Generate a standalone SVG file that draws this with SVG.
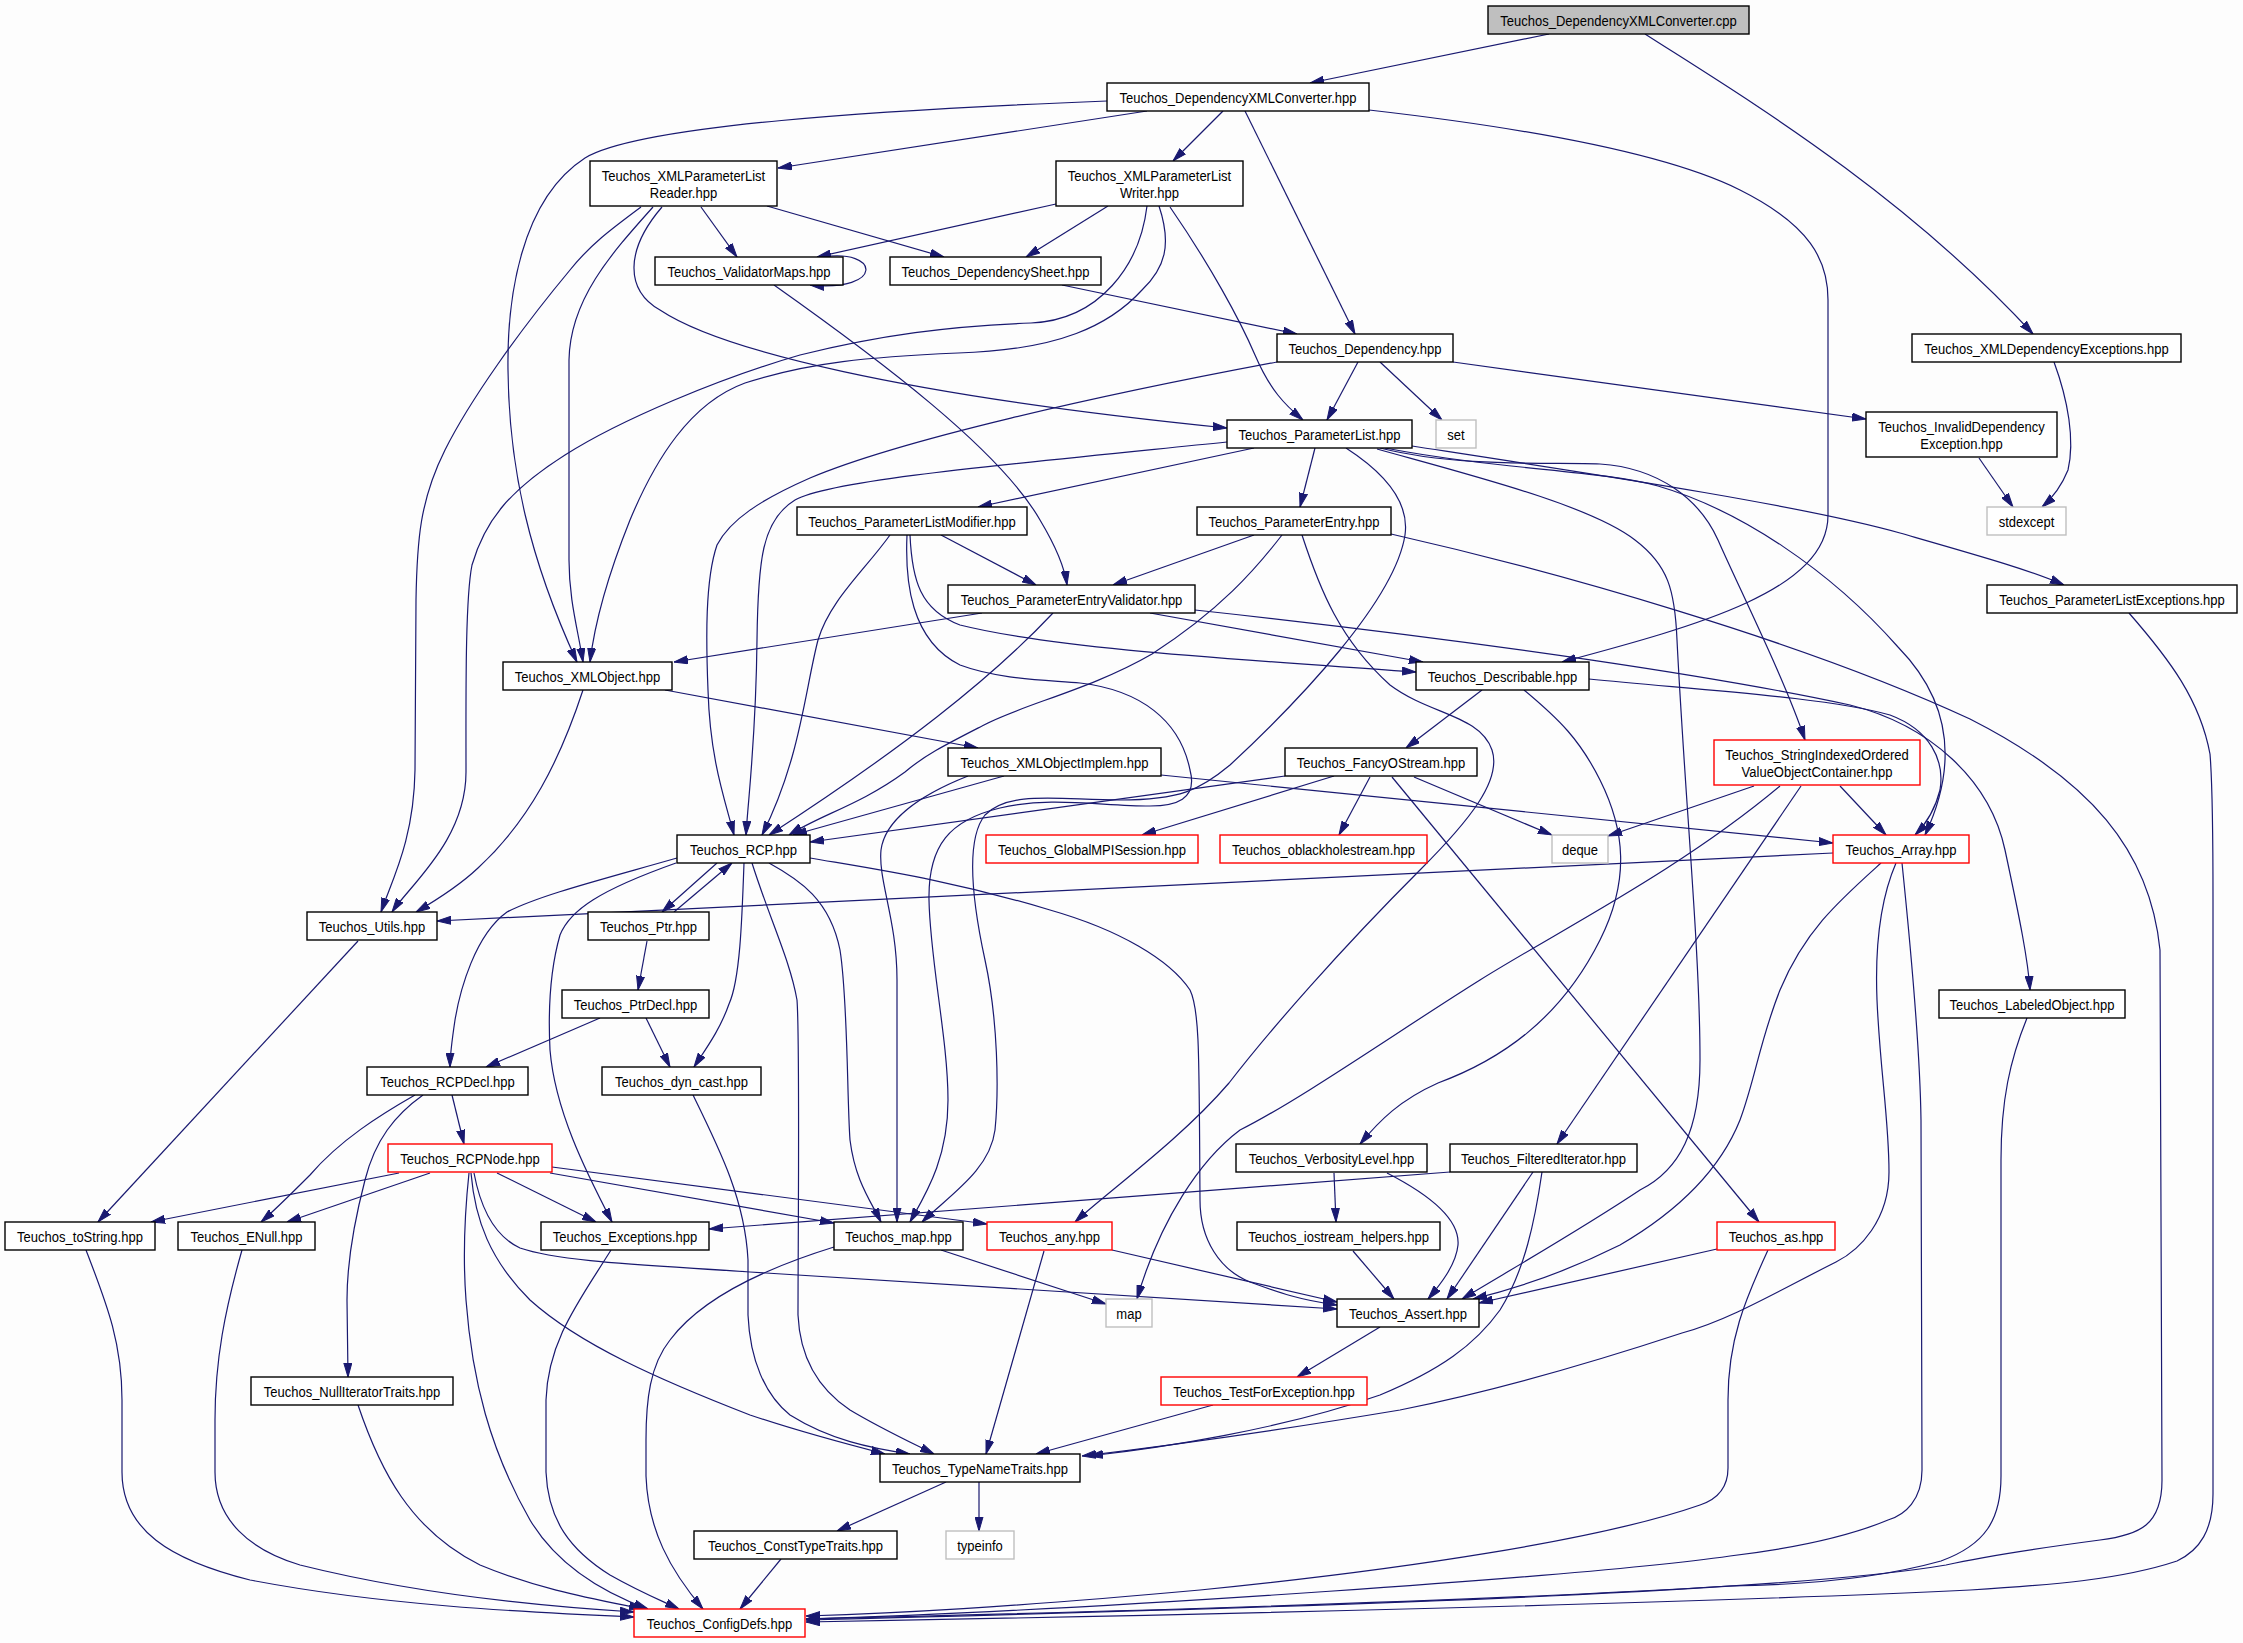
<svg xmlns="http://www.w3.org/2000/svg" width="2243" height="1643" viewBox="0 0 2243 1643">
<defs>
<style>
.n rect{fill:#ffffff;stroke:#000000;stroke-width:1.4}
.n.r rect{stroke:#ff0000}
.n.g rect{stroke:#bfbfbf}
.n.root rect{fill:#bfbfbf}
text{font-family:"Liberation Sans",Arial,Helvetica,sans-serif;font-size:15.5px;text-anchor:middle;fill:#000000}
#edges path{fill:none;stroke:#191970;stroke-width:1.2;marker-end:url(#ah)}
</style>
<marker id="ah" markerWidth="14" markerHeight="9" refX="14" refY="4.5" orient="auto" markerUnits="userSpaceOnUse">
<path d="M0,0.5 L14,4.5 L0,8.5 z" fill="#191970" stroke="#191970" stroke-width="1"/>
</marker>
</defs>
<rect x="0" y="0" width="2243" height="1643" fill="#fdfdfd"/>
<g id="edges">
<path d="M1549,34 L1310,83"/>
<path d="M1645,34 C1740,95 1900,190 2033,334"/>
<path d="M1147,111 L778,168"/>
<path d="M1223,111 L1173,161"/>
<path d="M1245,111 L1355,334"/>
<path d="M1369,110 C1500,125 1660,150 1740,190 C1810,225 1828,260 1828,300 L1828,515 C1828,590 1700,625 1562,662"/>
<path d="M1107,101 C880,110 640,125 585,158 C520,200 507,300 508,370 C509,470 530,560 577,662"/>
<path d="M701,207 L737,257"/>
<path d="M767,206 L944,257"/>
<path d="M662,207 C625,250 625,290 660,310 C720,350 900,395 1227,428"/>
<path d="M641,207 C610,230 590,245 570,270 C520,330 470,400 445,450 C420,500 417,540 416,600 L415,770 C414,840 392,880 381,912"/>
<path d="M653,207 C610,255 570,300 569,360 L569,560 C569,600 578,630 583,662"/>
<path d="M1056,204 L817,257"/>
<path d="M1108,206 L1026,257"/>
<path d="M1170,207 C1210,265 1240,320 1255,355 C1270,390 1285,405 1303,420"/>
<path d="M1147,206 C1140,265 1100,320 1031,323 C950,326 880,335 800,355 C720,378 620,420 565,455 C510,490 485,520 472,565 C465,600 466,700 466,772 C466,840 410,885 392,912"/>
<path d="M1159,206 C1172,245 1165,268 1142,290 C1110,325 1060,350 958,353 C870,357 810,362 745,383 C690,403 655,460 630,520 C610,570 595,620 590,662"/>
<path d="M822,257 C880,248 885,292 810,285"/>
<path d="M774,285 C880,360 1000,450 1040,520 C1058,550 1065,570 1067,585"/>
<path d="M1062,285 L1297,334"/>
<path d="M1358,362 L1327,420"/>
<path d="M1380,362 L1442,420"/>
<path d="M1453,362 L1866,419"/>
<path d="M1277,362 C1100,395 900,440 810,478 C760,500 730,520 717,545 C705,580 706,640 708,690 C710,760 725,800 734,835"/>
<path d="M1254,448 L978,507"/>
<path d="M1315,448 L1300,507"/>
<path d="M1227,442 C1000,465 830,480 795,500 C762,520 758,560 757,640 C756,740 748,800 746,835"/>
<path d="M1346,448 C1380,470 1410,500 1405,535 C1395,600 1300,700 1230,765 C1200,790 1180,800 1120,800 C1060,800 1010,790 985,815 C965,840 972,900 985,960 C998,1020 999,1090 995,1130 C990,1170 950,1195 922,1222"/>
<path d="M1377,449 C1470,475 1590,505 1635,540 C1668,565 1675,590 1677,640 C1685,800 1700,950 1700,1060 C1700,1130 1680,1170 1640,1190 C1580,1230 1510,1270 1462,1299"/>
<path d="M1380,448 C1460,468 1550,462 1600,464 C1660,468 1700,500 1718,540 C1740,590 1785,680 1805,740"/>
<path d="M1385,448 C1500,470 1600,470 1658,486 C1740,510 1830,570 1898,647 C1940,690 1965,750 1925,835"/>
<path d="M1412,446 C1600,475 1800,505 1900,533 C1980,556 2030,570 2064,585"/>
<path d="M941,535 L1036,585"/>
<path d="M910,535 C912,580 920,610 960,625 C1060,650 1250,660 1416,672"/>
<path d="M890,535 C865,570 830,600 818,640 C805,690 800,760 762,835"/>
<path d="M907,535 C905,580 910,640 960,665 C1000,680 1050,680 1080,683 C1140,690 1180,720 1190,770 C1198,800 1175,806 1150,806 C1100,806 1050,796 1000,808 C950,820 928,845 929,900 C930,960 948,1040 948,1100 C948,1160 925,1195 910,1222"/>
<path d="M1254,535 L1113,585"/>
<path d="M1282,535 C1255,570 1220,610 1152,654 C1090,690 1020,705 982,726 C945,745 925,755 905,772 C860,805 820,815 789,835"/>
<path d="M1302,535 C1320,590 1340,640 1390,685 C1430,715 1480,715 1492,750 C1502,780 1470,820 1420,870 C1340,950 1270,1030 1229,1083 C1180,1140 1110,1190 1075,1222"/>
<path d="M1391,534 C1550,570 1800,640 1970,719 C2090,780 2150,850 2160,950 L2162,1480 C2162,1525 2140,1535 2100,1540 C2040,1548 1990,1555 1946,1565 C1800,1590 1400,1605 806,1620"/>
<path d="M982,613 L674,662"/>
<path d="M1053,613 C990,680 900,750 769,835"/>
<path d="M1150,613 L1423,662"/>
<path d="M1195,610 C1500,643 1730,679 1850,705 C1930,725 1990,780 2005,850 C2020,920 2028,960 2030,990"/>
<path d="M1482,690 L1406,748"/>
<path d="M1589,679 C1700,690 1826,697 1890,715 C1930,730 1945,760 1940,790 C1935,810 1925,825 1915,835"/>
<path d="M1524,690 C1560,720 1580,740 1600,780 C1625,830 1630,880 1600,940 C1560,1020 1500,1060 1438,1083 C1400,1100 1380,1120 1360,1144"/>
<path d="M583,690 C560,760 530,820 478,868 C460,885 440,898 416,912"/>
<path d="M665,690 L978,748"/>
<path d="M1004,776 L793,835"/>
<path d="M968,776 C920,795 885,820 881,850 C878,880 897,920 897,980 L897,1222"/>
<path d="M1161,775 L1833,843"/>
<path d="M1285,776 L810,842"/>
<path d="M1334,776 L1142,835"/>
<path d="M1370,777 L1339,835"/>
<path d="M1414,777 L1552,835"/>
<path d="M1392,777 L1759,1222"/>
<path d="M1754,786 L1608,836"/>
<path d="M1780,786 C1680,870 1560,930 1480,980 C1400,1030 1300,1100 1240,1130 C1200,1160 1160,1220 1137,1299"/>
<path d="M1801,786 L1557,1144"/>
<path d="M1840,786 L1886,835"/>
<path d="M1833,853 L437,921"/>
<path d="M1881,863 C1840,900 1805,930 1780,990 C1760,1040 1755,1080 1740,1120 C1720,1170 1680,1210 1620,1245 C1560,1275 1510,1290 1473,1299"/>
<path d="M1896,863 C1880,900 1875,950 1877,1000 C1880,1070 1889,1120 1889,1172 C1889,1220 1860,1250 1836,1262 C1780,1290 1730,1320 1682,1333 C1600,1360 1500,1390 1400,1410 C1250,1435 1150,1448 1082,1456"/>
<path d="M1902,863 C1912,960 1920,1050 1921,1120 L1922,1470 C1922,1500 1905,1515 1888,1520 C1840,1540 1780,1550 1730,1556 C1600,1575 1100,1610 806,1619"/>
<path d="M358,941 L98,1222"/>
<path d="M717,863 L662,912"/>
<path d="M674,912 L732,863"/>
<path d="M677,858 C600,880 540,895 507,912 C475,935 460,990 455,1020 C452,1040 450,1055 450,1067"/>
<path d="M676,863 C600,890 570,910 560,935 C550,970 548,1010 550,1050 C555,1110 585,1170 612,1222"/>
<path d="M744,863 C742,920 740,980 729,1004 C720,1030 705,1050 694,1067"/>
<path d="M769,863 C800,880 830,900 840,950 C848,1000 847,1100 850,1140 C855,1180 870,1200 881,1222"/>
<path d="M752,863 C770,920 790,960 797,1000 C800,1040 798,1250 798,1315 C800,1360 820,1390 850,1410 C880,1428 910,1442 934,1454"/>
<path d="M810,858 C880,870 950,880 1050,910 C1120,930 1170,960 1190,990 C1200,1010 1199,1060 1200,1200 C1200,1240 1220,1270 1250,1282 C1280,1293 1300,1300 1337,1305"/>
<path d="M647,941 L638,990"/>
<path d="M600,1018 L486,1067"/>
<path d="M646,1018 L670,1067"/>
<path d="M452,1095 L464,1144"/>
<path d="M415,1095 C380,1115 340,1140 310,1175 C290,1195 275,1210 261,1222"/>
<path d="M423,1095 C395,1115 375,1140 365,1180 C352,1230 347,1270 347,1300 L348,1377"/>
<path d="M693,1095 C720,1150 745,1200 748,1260 L748,1315 C750,1360 765,1395 790,1415 C830,1440 870,1448 910,1454"/>
<path d="M399,1173 L151,1222"/>
<path d="M430,1173 L287,1222"/>
<path d="M497,1173 L596,1222"/>
<path d="M550,1173 L834,1223"/>
<path d="M552,1167 L987,1224"/>
<path d="M474,1173 C480,1205 492,1235 520,1248 C560,1262 650,1265 750,1272 L1337,1309"/>
<path d="M471,1173 C475,1220 490,1260 530,1300 C580,1345 660,1380 750,1415 C800,1432 850,1445 885,1454"/>
<path d="M469,1173 C464,1220 463,1260 466,1300 C472,1380 490,1450 530,1520 C560,1570 610,1595 648,1609"/>
<path d="M86,1250 C105,1300 122,1340 122,1400 L122,1472 C122,1530 170,1560 250,1580 C380,1605 520,1612 634,1617"/>
<path d="M242,1250 C225,1310 215,1360 215,1420 L215,1472 C215,1520 250,1550 300,1565 C400,1590 520,1605 634,1612"/>
<path d="M358,1405 C380,1470 410,1530 480,1565 C540,1590 600,1600 643,1609"/>
<path d="M611,1250 C580,1300 548,1340 546,1400 L546,1472 C548,1520 570,1550 610,1575 C640,1592 660,1600 679,1609"/>
<path d="M941,1250 L1106,1304"/>
<path d="M834,1247 C760,1270 700,1300 670,1340 C650,1365 646,1400 646,1440 L646,1476 C648,1530 670,1570 703,1609"/>
<path d="M1112,1250 L1337,1302"/>
<path d="M1044,1251 L986,1454"/>
<path d="M1334,1173 L1336,1222"/>
<path d="M1387,1173 C1430,1195 1460,1220 1458,1245 C1456,1265 1440,1285 1428,1299"/>
<path d="M1353,1251 L1394,1299"/>
<path d="M1450,1172 L709,1229"/>
<path d="M1533,1172 L1447,1299"/>
<path d="M1542,1172 C1535,1220 1525,1270 1500,1310 C1475,1345 1440,1370 1380,1395 C1280,1430 1160,1448 1089,1456"/>
<path d="M1717,1249 L1479,1303"/>
<path d="M1768,1250 C1745,1300 1728,1340 1728,1400 L1728,1468 C1728,1490 1715,1500 1700,1505 C1600,1540 1400,1570 1200,1590 C1000,1608 900,1613 806,1616"/>
<path d="M1380,1327 L1297,1377"/>
<path d="M1213,1405 L1036,1454"/>
<path d="M946,1482 L837,1531"/>
<path d="M979,1482 L979,1531"/>
<path d="M781,1559 L740,1609"/>
<path d="M2027,1018 C2010,1060 2001,1100 2001,1160 L2001,1476 C2001,1520 1985,1545 1941,1561 C1880,1578 1800,1585 1730,1586 C1500,1600 1100,1612 806,1619"/>
<path d="M2129,613 C2170,660 2200,700 2210,754 C2213,790 2213,850 2213,900 L2213,1494 C2213,1530 2200,1550 2177,1561 C2120,1580 2050,1585 1970,1590 C1700,1603 1200,1615 806,1622"/>
<path d="M2054,362 C2068,400 2075,440 2068,470 C2060,490 2050,500 2042,507"/>
<path d="M1979,458 L2013,507"/>
</g>
<g id="n_cpp" class="n root"><rect x="1488" y="6" width="261" height="28"/><text transform="translate(1618.5,25.5) scale(0.84,1)">Teuchos_DependencyXMLConverter.cpp</text></g>
<g id="n_conv" class="n"><rect x="1107" y="83" width="262" height="28"/><text transform="translate(1238,102.5) scale(0.84,1)">Teuchos_DependencyXMLConverter.hpp</text></g>
<g id="n_reader" class="n"><rect x="590" y="161" width="187" height="45"/><text transform="translate(683.5,180.5) scale(0.84,1)">Teuchos_XMLParameterList</text><text transform="translate(683.5,197.5) scale(0.84,1)">Reader.hpp</text></g>
<g id="n_writer" class="n"><rect x="1056" y="161" width="187" height="45"/><text transform="translate(1149.5,180.5) scale(0.84,1)">Teuchos_XMLParameterList</text><text transform="translate(1149.5,197.5) scale(0.84,1)">Writer.hpp</text></g>
<g id="n_valmaps" class="n"><rect x="655" y="257" width="188" height="28"/><text transform="translate(749,276.5) scale(0.84,1)">Teuchos_ValidatorMaps.hpp</text></g>
<g id="n_depsheet" class="n"><rect x="890" y="257" width="211" height="28"/><text transform="translate(995.5,276.5) scale(0.84,1)">Teuchos_DependencySheet.hpp</text></g>
<g id="n_dep" class="n"><rect x="1277" y="334" width="176" height="28"/><text transform="translate(1365,353.5) scale(0.84,1)">Teuchos_Dependency.hpp</text></g>
<g id="n_xmldepexc" class="n"><rect x="1912" y="334" width="269" height="28"/><text transform="translate(2046.5,353.5) scale(0.84,1)">Teuchos_XMLDependencyExceptions.hpp</text></g>
<g id="n_plist" class="n"><rect x="1227" y="420" width="185" height="28"/><text transform="translate(1319.5,439.5) scale(0.84,1)">Teuchos_ParameterList.hpp</text></g>
<g id="n_set" class="n g"><rect x="1436" y="420" width="40" height="28"/><text transform="translate(1456,439.5) scale(0.84,1)">set</text></g>
<g id="n_invdep" class="n"><rect x="1866" y="412" width="191" height="45"/><text transform="translate(1961.5,431.5) scale(0.84,1)">Teuchos_InvalidDependency</text><text transform="translate(1961.5,448.5) scale(0.84,1)">Exception.hpp</text></g>
<g id="n_stdexcept" class="n g"><rect x="1987" y="507" width="79" height="28"/><text transform="translate(2026.5,526.5) scale(0.84,1)">stdexcept</text></g>
<g id="n_plmod" class="n"><rect x="797" y="507" width="230" height="28"/><text transform="translate(912,526.5) scale(0.84,1)">Teuchos_ParameterListModifier.hpp</text></g>
<g id="n_pentry" class="n"><rect x="1197" y="507" width="194" height="28"/><text transform="translate(1294,526.5) scale(0.84,1)">Teuchos_ParameterEntry.hpp</text></g>
<g id="n_pev" class="n"><rect x="948" y="585" width="247" height="28"/><text transform="translate(1071.5,604.5) scale(0.84,1)">Teuchos_ParameterEntryValidator.hpp</text></g>
<g id="n_ple" class="n"><rect x="1987" y="585" width="250" height="28"/><text transform="translate(2112,604.5) scale(0.84,1)">Teuchos_ParameterListExceptions.hpp</text></g>
<g id="n_xmlobj" class="n"><rect x="503" y="662" width="169" height="28"/><text transform="translate(587.5,681.5) scale(0.84,1)">Teuchos_XMLObject.hpp</text></g>
<g id="n_describ" class="n"><rect x="1416" y="662" width="173" height="28"/><text transform="translate(1502.5,681.5) scale(0.84,1)">Teuchos_Describable.hpp</text></g>
<g id="n_xmlimpl" class="n"><rect x="948" y="748" width="213" height="28"/><text transform="translate(1054.5,767.5) scale(0.84,1)">Teuchos_XMLObjectImplem.hpp</text></g>
<g id="n_fancy" class="n"><rect x="1285" y="748" width="192" height="28"/><text transform="translate(1381,767.5) scale(0.84,1)">Teuchos_FancyOStream.hpp</text></g>
<g id="n_sioc" class="n r"><rect x="1714" y="740" width="206" height="45"/><text transform="translate(1817,759.5) scale(0.84,1)">Teuchos_StringIndexedOrdered</text><text transform="translate(1817,776.5) scale(0.84,1)">ValueObjectContainer.hpp</text></g>
<g id="n_rcp" class="n"><rect x="677" y="835" width="133" height="28"/><text transform="translate(743.5,854.5) scale(0.84,1)">Teuchos_RCP.hpp</text></g>
<g id="n_gmpi" class="n r"><rect x="986" y="835" width="212" height="28"/><text transform="translate(1092,854.5) scale(0.84,1)">Teuchos_GlobalMPISession.hpp</text></g>
<g id="n_obh" class="n r"><rect x="1220" y="835" width="207" height="28"/><text transform="translate(1323.5,854.5) scale(0.84,1)">Teuchos_oblackholestream.hpp</text></g>
<g id="n_deque" class="n g"><rect x="1552" y="835" width="56" height="28"/><text transform="translate(1580,854.5) scale(0.84,1)">deque</text></g>
<g id="n_array" class="n r"><rect x="1833" y="835" width="136" height="28"/><text transform="translate(1901,854.5) scale(0.84,1)">Teuchos_Array.hpp</text></g>
<g id="n_utils" class="n"><rect x="307" y="912" width="130" height="28"/><text transform="translate(372,931.5) scale(0.84,1)">Teuchos_Utils.hpp</text></g>
<g id="n_ptr" class="n"><rect x="588" y="912" width="121" height="28"/><text transform="translate(648.5,931.5) scale(0.84,1)">Teuchos_Ptr.hpp</text></g>
<g id="n_ptrdecl" class="n"><rect x="562" y="990" width="147" height="28"/><text transform="translate(635.5,1009.5) scale(0.84,1)">Teuchos_PtrDecl.hpp</text></g>
<g id="n_labeled" class="n"><rect x="1939" y="990" width="186" height="28"/><text transform="translate(2032,1009.5) scale(0.84,1)">Teuchos_LabeledObject.hpp</text></g>
<g id="n_rcpdecl" class="n"><rect x="367" y="1067" width="161" height="28"/><text transform="translate(447.5,1086.5) scale(0.84,1)">Teuchos_RCPDecl.hpp</text></g>
<g id="n_dyncast" class="n"><rect x="602" y="1067" width="159" height="28"/><text transform="translate(681.5,1086.5) scale(0.84,1)">Teuchos_dyn_cast.hpp</text></g>
<g id="n_rcpnode" class="n r"><rect x="388" y="1144" width="164" height="28"/><text transform="translate(470,1163.5) scale(0.84,1)">Teuchos_RCPNode.hpp</text></g>
<g id="n_verb" class="n"><rect x="1236" y="1144" width="191" height="28"/><text transform="translate(1331.5,1163.5) scale(0.84,1)">Teuchos_VerbosityLevel.hpp</text></g>
<g id="n_filt" class="n"><rect x="1450" y="1144" width="187" height="28"/><text transform="translate(1543.5,1163.5) scale(0.84,1)">Teuchos_FilteredIterator.hpp</text></g>
<g id="n_tostring" class="n"><rect x="5" y="1222" width="150" height="28"/><text transform="translate(80,1241.5) scale(0.84,1)">Teuchos_toString.hpp</text></g>
<g id="n_enull" class="n"><rect x="178" y="1222" width="137" height="28"/><text transform="translate(246.5,1241.5) scale(0.84,1)">Teuchos_ENull.hpp</text></g>
<g id="n_exc" class="n"><rect x="541" y="1222" width="168" height="28"/><text transform="translate(625,1241.5) scale(0.84,1)">Teuchos_Exceptions.hpp</text></g>
<g id="n_maph" class="n"><rect x="834" y="1222" width="129" height="28"/><text transform="translate(898.5,1241.5) scale(0.84,1)">Teuchos_map.hpp</text></g>
<g id="n_any" class="n r"><rect x="987" y="1222" width="125" height="28"/><text transform="translate(1049.5,1241.5) scale(0.84,1)">Teuchos_any.hpp</text></g>
<g id="n_iohelp" class="n"><rect x="1237" y="1222" width="203" height="28"/><text transform="translate(1338.5,1241.5) scale(0.84,1)">Teuchos_iostream_helpers.hpp</text></g>
<g id="n_as" class="n r"><rect x="1717" y="1222" width="118" height="28"/><text transform="translate(1776,1241.5) scale(0.84,1)">Teuchos_as.hpp</text></g>
<g id="n_map" class="n g"><rect x="1106" y="1299" width="46" height="28"/><text transform="translate(1129,1318.5) scale(0.84,1)">map</text></g>
<g id="n_assert" class="n"><rect x="1337" y="1299" width="142" height="28"/><text transform="translate(1408,1318.5) scale(0.84,1)">Teuchos_Assert.hpp</text></g>
<g id="n_nullit" class="n"><rect x="251" y="1377" width="202" height="28"/><text transform="translate(352,1396.5) scale(0.84,1)">Teuchos_NullIteratorTraits.hpp</text></g>
<g id="n_tfe" class="n r"><rect x="1161" y="1377" width="206" height="28"/><text transform="translate(1264,1396.5) scale(0.84,1)">Teuchos_TestForException.hpp</text></g>
<g id="n_tnt" class="n"><rect x="880" y="1454" width="200" height="28"/><text transform="translate(980,1473.5) scale(0.84,1)">Teuchos_TypeNameTraits.hpp</text></g>
<g id="n_const" class="n"><rect x="694" y="1531" width="203" height="28"/><text transform="translate(795.5,1550.5) scale(0.84,1)">Teuchos_ConstTypeTraits.hpp</text></g>
<g id="n_typeinfo" class="n g"><rect x="946" y="1531" width="68" height="28"/><text transform="translate(980,1550.5) scale(0.84,1)">typeinfo</text></g>
<g id="n_config" class="n r"><rect x="634" y="1609" width="171" height="28"/><text transform="translate(719.5,1628.5) scale(0.84,1)">Teuchos_ConfigDefs.hpp</text></g>
</svg>
